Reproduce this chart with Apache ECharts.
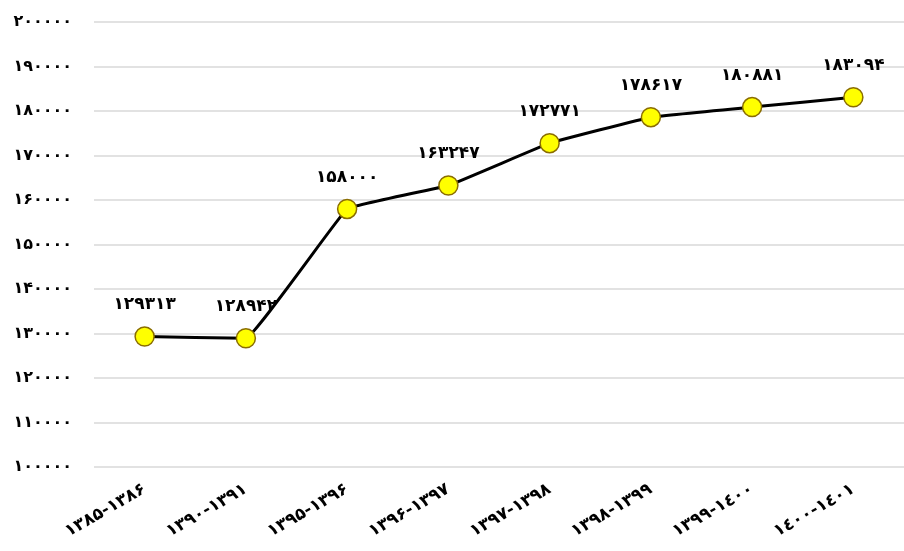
<!DOCTYPE html>
<html>
<head>
<meta charset="utf-8">
<script src="https://cdn.jsdelivr.net/npm/echarts@6/dist/echarts.min.js"></script>
<style>
html,body{margin:0;padding:0;background:#fff;}
#chart{width:904px;height:551px;}
</style>
</head>
<body>
<div id="chart"></div>
<script>
const categories = ['۱۳۸۵-۱۳۸۶','۱۳۹۰-۱۳۹۱','۱۳۹۵-۱۳۹۶','۱۳۹۶-۱۳۹۷','۱۳۹۷-۱۳۹۸','۱۳۹۸-۱۳۹۹','۱۳۹۹-۱٤۰۰','۱٤۰۰-۱٤۰۱'];
const values = [129313, 128942, 158000, 163247, 172771, 178617, 180881, 183094];
const yMin = 100000, yMax = 200000, yStep = 10000;

const faDigits = '۰۱۲۳۴۵۶۷۸۹';
function toFa(n){ return String(n).replace(/[0-9]/g, d => faDigits[+d]); }

const FONT = "'DejaVu Sans', sans-serif";
const chart = echarts.init(document.getElementById('chart'), null, {renderer:'canvas'});
chart.setOption({
  animation: false,
  backgroundColor: '#ffffff',
  grid: { left: 94, width: 815, top: 22, bottom: 84, containLabel: false },
  xAxis: {
    type: 'category',
    data: categories,
    boundaryGap: true,
    axisLine: { show: false },
    axisTick: { show: false },
    axisLabel: { rotate: 30, color: '#000', fontFamily: FONT, fontWeight: 'bold', fontSize: 17, margin: 21, interval: 0 }
  },
  yAxis: {
    type: 'value',
    min: yMin, max: yMax, interval: yStep,
    axisLine: { show: false },
    axisTick: { show: false },
    splitLine: { lineStyle: { color: '#d9d9d9', width: 1.5 } },
    axisLabel: { color: '#000', fontFamily: FONT, fontWeight: 'bold', fontSize: 16, margin: 22, formatter: v => toFa(v) }
  },
  series: [{
    type: 'line',
    data: values,
    smooth: 0.06,
    symbol: 'circle',
    symbolSize: 19,
    lineStyle: { color: '#000', width: 3 },
    itemStyle: { color: '#ffff00', borderColor: '#8a6d00', borderWidth: 1.5 },
    label: { show: true, position: 'top', distance: 13, color: '#000', fontFamily: FONT, fontWeight: 'bold', fontSize: 17, formatter: p => toFa(p.value) },
    z: 3
  }]
});
</script>
</body>
</html>
